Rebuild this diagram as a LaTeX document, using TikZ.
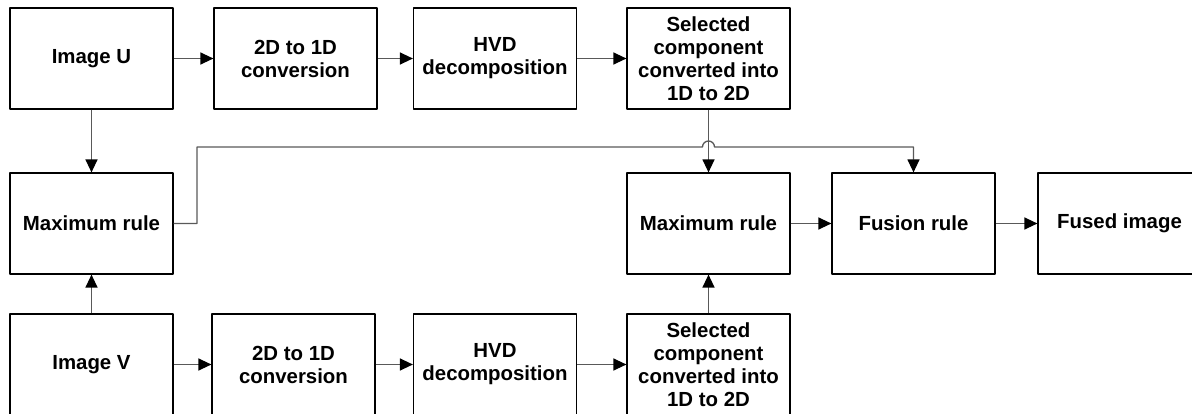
\documentclass[tikz,border=0pt]{standalone}
\usepackage{fontspec}
\setmainfont{Liberation Sans}
\usetikzlibrary{arrows.meta,calc}
\tikzset{
  blk/.style={draw=black, line width=1.2pt, minimum width=163pt, minimum height=101pt, inner sep=0pt, align=center},
  arr/.style={draw=black!65, line width=1.3pt, -{Triangle[length=13pt,width=12pt,color=black]}}
}
\begin{document}
\begin{tikzpicture}[x=1pt,y=-1pt,line join=round,font=\fontsize{20.4}{23}\selectfont\bfseries]
    \clip (0,0) rectangle (1192,414);
    % top row
    \node[blk] (imgU) at (91.5,58.5) {Image U};
    \node[blk] (convU) at (295.5,58.5) {2D to 1D\\conversion};
    \node[blk] (hvdU) at (495,58.5) {HVD\\decomposition};
    \node[blk] (selU) at (708.5,58.5) {Selected\\component\\converted into\\1D to 2D};
    % middle row
    \node[blk] (maxL) at (91.5,223.5) {Maximum rule};
    \node[blk] (maxR) at (708.5,223.5) {Maximum rule};
    \node[blk] (fus) at (913.5,223.5) {Fusion rule};
    \node[blk] (fused) at (1119.5,223.5) {Fused image};
    % bottom row
    \node[blk] (imgV) at (91.5,364.5) {Image V};
    \node[blk] (convV) at (293.5,364.5) {2D to 1D\\conversion};
    \node[blk] (hvdV) at (495,364.5) {HVD\\decomposition};
    \node[blk] (selV) at (708.5,364.5) {Selected\\component\\converted into\\1D to 2D};
    \coordinate (bend) at (197,147);
    \draw[arr] (imgU)--(convU);
    \draw[arr] (convU)--(hvdU);
    \draw[arr] (hvdU)--(selU);
    \draw[arr] (imgV)--(convV);
    \draw[arr] (convV)--(hvdV);
    \draw[arr] (hvdV)--(selV);
    \draw[arr] (imgU)--(maxL);
    \draw[arr] (imgV)--(maxL);
    \draw[arr] (selU)--(maxR);
    \draw[arr] (selV)--(maxR);
    \draw[arr] (maxR)--(fus);
    \draw[arr] (fus)--(fused);
    \draw[arr] (maxL.east) -| (bend) -- ($(selU.south |- bend)+(-6pt,0)$)
        arc[start angle=180,end angle=0,radius=6pt] -| (fus.north);
\end{tikzpicture}
\end{document}
